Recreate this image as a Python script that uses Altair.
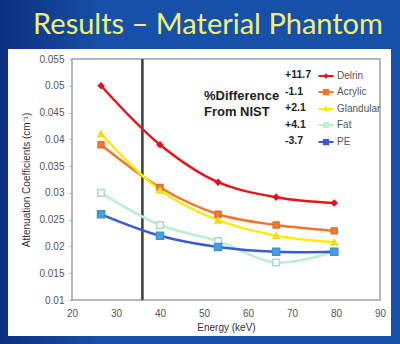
import altair as alt
import pandas as pd

# ---- data ----
series = ["Delrin", "Acrylic", "Glandular", "Fat", "PE"]
pct_diff = ["+11.7", "-1.1", "+2.1", "+4.1", "-3.7"]
energy_kev = [26.6, 40.0, 53.2, 66.4, 79.6]
delrin = [0.0500, 0.0390, 0.0320, 0.0292, 0.0281]
acrylic = [0.0390, 0.0310, 0.0260, 0.0240, 0.0229]
glandular = [0.0410, 0.0305, 0.0249, 0.0220, 0.0208]
fat = [0.0300, 0.0240, 0.0210, 0.0170, 0.0190]
pe = [0.0260, 0.0220, 0.0199, 0.0190, 0.0190]
cutoff_kev = [36.0]
x_ticks = [20, 30, 40, 50, 60, 70, 80, 90]
y_ticks = [0.01, 0.015, 0.02, 0.025, 0.03, 0.035, 0.04, 0.045, 0.05, 0.055]

# ---- styles ----
line_colors = ["#e5151c", "#f0762a", "#fbec0c", "#b9f0cd", "#3a5ad2"]
marker_fill = ["#e5151c", "#f07a35", "#f5e40a", "#ffffff", "#4a9ee0"]
marker_stroke = ["#e5151c", "#e86a2a", "#f0dc10", "#a9dcc0", "#4090d8"]
marker_shape = ["diamond", "square", "triangle-up", "square", "square"]
marker_size = [30, 50, 35, 45, 55]
line_widths = [2.5, 2.5, 3.2, 2.0, 2.5]
legend_paths = [
    "M-1,0H1M0,-0.16L0.16,0L0,0.16L-0.16,0Z",
    "M-1,0H1M-0.27,-0.27H0.27V0.27H-0.27Z",
    "M-1,0H1M0,-0.2L0.2,0.15H-0.2Z",
    "M-1,0H1M-0.25,-0.25H0.25V0.25H-0.25Z",
    "M-1,0H1M-0.27,-0.27H0.27V0.27H-0.27Z",
]

values_by_series = [delrin, acrylic, glandular, fat, pe]
rows = []
for name, vals in zip(series, values_by_series):
    for e, v in zip(energy_kev, vals):
        rows.append({"series": name, "energy": e, "value": v})
df = pd.DataFrame(rows)
one = pd.DataFrame({"k": [0]})

W, H = 308, 241
FONT = "Liberation Sans"

x_axis = alt.Axis(
    values=x_ticks, grid=False, domain=False, ticks=False, zindex=1,
    labelOverlap=False, labelFlush=False, labelBound=False,
    labelFont=FONT, labelFontSize=10, labelColor="#555555", labelPadding=8,
    title="Energy (keV)", titleFont=FONT, titleFontSize=10,
    titleFontWeight="normal", titleColor="#333333", titlePadding=4,
)
y_axis = alt.Axis(
    values=y_ticks, format="~g", grid=False, domain=False, zindex=1,
    labelOverlap=False, labelFlush=False, labelBound=False,
    tickSize=3, tickColor="#aaaaaa",
    labelFont=FONT, labelFontSize=10, labelColor="#555555", labelPadding=5,
    title="Attenuation Coefficients (cm⁻¹)", titleFont=FONT, titleFontSize=10,
    titleFontWeight="normal", titleColor="#333333", titlePadding=7,
)
x_scale = alt.Scale(domain=[20, 90], nice=False)
y_scale = alt.Scale(domain=[0.01, 0.055], nice=False, zero=False)
x_enc = alt.X("energy:Q", scale=x_scale, axis=x_axis)
y_enc = alt.Y("value:Q", scale=y_scale, axis=y_axis)

gradient = alt.LinearGradient(
    gradient="linear", x1=0, x2=1, y1=0, y2=0,
    stops=[
        alt.GradientStop(offset=0, color="#0b2f80"),
        alt.GradientStop(offset=0.25, color="#1650a8"),
        alt.GradientStop(offset=1, color="#1650a8"),
    ],
)

background = alt.Chart(one).mark_rect(color=gradient).encode(
    x=alt.value(-72), x2=alt.value(328), y=alt.value(-59), y2=alt.value(285)
)
panel = alt.Chart(one).mark_rect(color="#ffffff").encode(
    x=alt.value(-64), x2=alt.value(319), y=alt.value(-10), y2=alt.value(277)
)
frame = alt.Chart(one).mark_rect(
    fill=None, fillOpacity=0, stroke="#a0a0a0", strokeWidth=1.5
).encode(x=alt.value(0), x2=alt.value(W), y=alt.value(0), y2=alt.value(H))

slide_title = alt.Chart(one).mark_text(
    text="Results – Material Phantom", font="Lato", fontSize=29,
    color="#eef07a", align="center", baseline="middle",
).encode(x=alt.value(136), y=alt.value(-34))

cutoff = alt.Chart(pd.DataFrame({"energy": cutoff_kev})).mark_rule(
    color="#3c3c3c", strokeWidth=2.5
).encode(x=x_enc)

lines = alt.Chart(df).mark_line(interpolate="catmull-rom").encode(
    x=x_enc,
    y=y_enc,
    color=alt.Color("series:N", sort=series,
                    scale=alt.Scale(domain=series, range=line_colors), legend=None),
    strokeWidth=alt.StrokeWidth("series:N", sort=series,
                                scale=alt.Scale(domain=series, range=line_widths), legend=None),
)

points = alt.Chart(df).mark_point(strokeWidth=1.5, opacity=1).encode(
    x=x_enc,
    y=y_enc,
    shape=alt.Shape("series:N", scale=alt.Scale(domain=series, range=marker_shape), legend=None),
    fill=alt.Fill("series:N", scale=alt.Scale(domain=series, range=marker_fill), legend=None),
    stroke=alt.Stroke("series:N", scale=alt.Scale(domain=series, range=marker_stroke), legend=None),
    size=alt.Size("series:N", scale=alt.Scale(domain=series, range=marker_size), legend=None),
)


def make_legend():
    return alt.Legend(
        orient="none", legendX=245, legendY=8, title=None,
        symbolSize=225, symbolStrokeWidth=2.2, labelFont=FONT, labelFontSize=10,
        labelColor="#555555", labelOffset=2, rowPadding=1, symbolOpacity=1,
    )


legend_layer = alt.Chart(df).transform_filter("false").mark_point(
    size=225, strokeWidth=2.2, opacity=1
).encode(
    shape=alt.Shape("series:N", sort=series,
                    scale=alt.Scale(domain=series, range=legend_paths), legend=make_legend()),
    fill=alt.Fill("series:N", sort=series,
                  scale=alt.Scale(domain=series, range=marker_fill), legend=make_legend()),
    stroke=alt.Stroke("series:N", sort=series,
                      scale=alt.Scale(domain=series, range=line_colors), legend=make_legend()),
)

diff_text = alt.Chart(one).mark_text(
    text=pct_diff, font=FONT, fontSize=10.5, fontWeight="bold", color="#222222",
    align="left", baseline="top", lineHeight=16.5,
).encode(x=alt.value(213), y=alt.value(11))

diff_title = alt.Chart(one).mark_text(
    text=["%Difference", "From NIST"], font=FONT, fontSize=13, fontWeight="bold",
    color="#222222", align="left", baseline="top", lineHeight=15.5,
).encode(x=alt.value(132), y=alt.value(31))

chart = alt.layer(
    background, panel, frame, slide_title, cutoff, lines, points, legend_layer,
    diff_text, diff_title
).resolve_scale(
    shape="independent", fill="independent", stroke="independent", size="independent"
).properties(
    width=W, height=H, padding={"left": 72, "top": 59, "right": 20, "bottom": 44},
    autosize=alt.AutoSizeParams(type="none"),
).configure(background="#1650a8").configure_view(stroke=None)

chart.save("out.html", embed_options={"renderer": "svg", "actions": False})
